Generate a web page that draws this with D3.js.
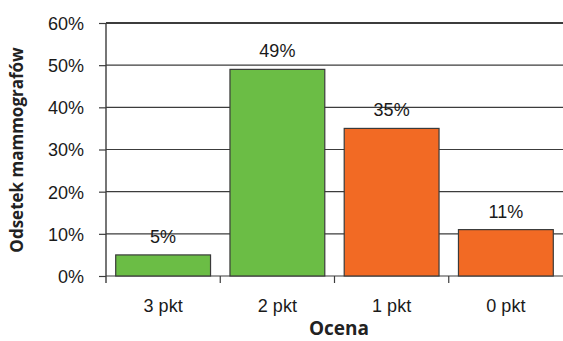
<!DOCTYPE html>
<html>
<head>
<meta charset="utf-8">
<script src="https://cdn.jsdelivr.net/npm/d3@7"></script>
<style>
  html, body { margin: 0; padding: 0; background: #fff; }
  svg { display: block; }
</style>
</head>
<body>
<svg id="chart" width="563" height="341"></svg>
<script>
// Ocena mammografów – rozkład punktów
const categories = ["3 pkt", "2 pkt", "1 pkt", "0 pkt"];
const values = [5, 49, 35, 11];
const barColors = ["#6bbd45", "#6bbd45", "#f26a24", "#f26a24"];
const yTicks = [0, 10, 20, 30, 40, 50, 60];
const xTitle = "Ocena";
const yTitle = "Odsetek mammografów";

const svg = d3.select("#chart");
const plotLeft = 106, plotRight = 563, plotTop = 23, plotBottom = 276;

const x = d3.scaleBand()
  .domain(categories)
  .range([plotLeft, plotRight])
  .paddingInner(0.17)
  .paddingOuter(0.085);

const y = d3.scaleLinear()
  .domain([0, 60])
  .range([plotBottom, plotTop]);

const labelFont = "'Liberation Sans', Arial, sans-serif";
const titleFont = "'Open Sans', 'Noto Sans', sans-serif";

// horizontal gridlines
svg.append("g")
  .selectAll("line")
  .data(yTicks)
  .join("line")
  .attr("x1", plotLeft).attr("x2", plotRight)
  .attr("y1", d => y(d)).attr("y2", d => y(d))
  .attr("stroke", "#3c3c3c")
  .attr("stroke-width", d => d === 60 ? 2 : 1.2);

// bars
svg.append("g")
  .selectAll("rect")
  .data(values)
  .join("rect")
  .attr("x", (d, i) => x(categories[i]))
  .attr("width", x.bandwidth())
  .attr("y", d => y(d))
  .attr("height", d => y(0) - y(d))
  .attr("fill", (d, i) => barColors[i])
  .attr("stroke", "#3a3a3a")
  .attr("stroke-width", 1.2);

// value labels
svg.append("g")
  .selectAll("text")
  .data(values)
  .join("text")
  .attr("x", (d, i) => x(categories[i]) + x.bandwidth() / 2)
  .attr("y", d => y(d) - 12)
  .attr("text-anchor", "middle")
  .attr("font-family", labelFont)
  .attr("font-size", 18)
  .attr("fill", "#1a1a1a")
  .text(d => d + "%");

// y axis
const yAxis = d3.axisLeft(y)
  .tickValues(yTicks)
  .tickFormat(d => d + "%")
  .tickSize(7)
  .tickPadding(15);
const gy = svg.append("g")
  .attr("transform", `translate(${plotLeft},0)`)
  .call(yAxis);
gy.select(".domain").remove();
gy.selectAll(".tick line").attr("stroke", "#3c3c3c").attr("stroke-width", 1.2);
gy.selectAll(".tick text")
  .attr("font-family", labelFont)
  .attr("font-size", 18)
  .attr("fill", "#1a1a1a")
  .attr("dy", "0.36em");
svg.append("line")
  .attr("x1", plotLeft).attr("x2", plotLeft)
  .attr("y1", plotTop).attr("y2", plotBottom + 7)
  .attr("stroke", "#3c3c3c")
  .attr("stroke-width", 1.4);

// x axis: ticks at category boundaries
const step = x.step();
const bounds = categories.map((c, i) => plotLeft + i * step);
svg.append("g")
  .selectAll("line")
  .data(bounds.slice(1))
  .join("line")
  .attr("x1", d => d).attr("x2", d => d)
  .attr("y1", plotBottom).attr("y2", plotBottom + 7)
  .attr("stroke", "#3c3c3c")
  .attr("stroke-width", 1.2);

svg.append("g")
  .selectAll("text")
  .data(categories)
  .join("text")
  .attr("x", d => x(d) + x.bandwidth() / 2)
  .attr("y", 312)
  .attr("text-anchor", "middle")
  .attr("font-family", labelFont)
  .attr("font-size", 18)
  .attr("fill", "#1a1a1a")
  .text(d => d);

// axis titles
svg.append("text")
  .attr("x", 339)
  .attr("y", 335)
  .attr("text-anchor", "middle")
  .attr("font-family", titleFont)
  .attr("font-weight", "bold")
  .attr("font-size", 19)
  .attr("fill", "#222")
  .text(xTitle);

svg.append("text")
  .attr("transform", "translate(23,150) rotate(-90)")
  .attr("text-anchor", "middle")
  .attr("font-family", titleFont)
  .attr("font-weight", "bold")
  .attr("font-size", 17)
  .attr("fill", "#222")
  .text(yTitle);
</script>
</body>
</html>
